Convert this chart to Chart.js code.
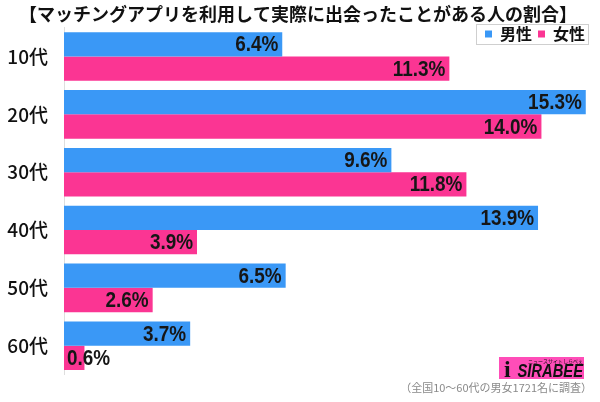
<!DOCTYPE html>
<html>
<head>
<meta charset="utf-8">
<script src="https://cdn.jsdelivr.net/npm/chart.js@4"></script>
<style>
  html, body { margin: 0; padding: 0; background: #fff; }
  #wrap { width: 600px; height: 402px; position: relative; }
</style>
</head>
<body>
<div id="wrap"><canvas id="chart"></canvas></div>
<script>
// Data
const categories = ['10代', '20代', '30代', '40代', '50代', '60代'];
const seriesNames = ['男性', '女性'];
const maleValues = [6.4, 15.3, 9.6, 13.9, 6.5, 3.7];
const femaleValues = [11.3, 14.0, 11.8, 3.9, 2.6, 0.6];
const titleText = '【マッチングアプリを利用して実際に出会ったことがある人の割合】';
const noteText = '（全国10～60代の男女1721名に調査）';

const BLUE = '#3a98f6';
const PINK = '#fb3593';
const JP = '"Noto Sans CJK JP", "Noto Sans", sans-serif';

// value labels at the end of each bar (narrowed text)
const valueLabels = {
    id: 'valueLabels',
    afterDatasetsDraw(chart) {
        const ctx = chart.ctx;
        const area = chart.chartArea;
        const squeeze = 0.86;
        ctx.save();
        ctx.font = 'bold 22px "Liberation Sans", sans-serif';
        ctx.fillStyle = '#161616';
        ctx.textAlign = 'right';
        ctx.textBaseline = 'middle';
        chart.data.datasets.forEach((ds, i) => {
            chart.getDatasetMeta(i).data.forEach((bar, j) => {
                const txt = ds.data[j].toFixed(1) + '%';
                const w = ctx.measureText(txt).width * squeeze;
                const x = Math.max(bar.x - 4, area.left + 3 + w);
                ctx.save();
                ctx.translate(x, bar.y + 1);
                ctx.scale(squeeze, 1);
                ctx.fillText(txt, 0, 0);
                ctx.restore();
            });
        });
        ctx.restore();
    }
};

// keep legend from taking vertical space, place it over the plot, and frame it
const legendBox = {
    id: 'legendBox',
    beforeInit(chart) {
        const fit = chart.legend.fit;
        chart.legend.fit = function() {
            fit.call(this);
            this._fullHeight = this.height;
            this.height = 0;
        };
    },
    afterLayout(chart) {
        const lg = chart.legend;
        lg.top = 20;
        lg.height = lg._fullHeight;
        lg.bottom = lg.top + lg.height;
        lg.left -= 5;
        lg.right -= 5;
    },
    afterDraw(chart) {
        const boxes = chart.legend.legendHitBoxes;
        if (!boxes || !boxes.length) return;
        const ctx = chart.ctx;
        const left = Math.min(...boxes.map(b => b.left)) - 9;
        const right = Math.max(...boxes.map(b => b.left + b.width)) + 3;
        const top = boxes[0].top - 2;
        const bottom = boxes[0].top + boxes[0].height + 2;
        ctx.save();
        ctx.strokeStyle = '#cfcfcf';
        ctx.lineWidth = 1;
        ctx.strokeRect(Math.round(left) + 0.5, Math.round(top) + 0.5, Math.round(right - left), Math.round(bottom - top));
        ctx.restore();
    }
};

// source note and site logo
const footer = {
    id: 'footer',
    afterDraw(chart) {
        const ctx = chart.ctx;
        ctx.save();
        ctx.font = '11px ' + JP;
        ctx.fillStyle = '#8a8a8a';
        ctx.textAlign = 'right';
        ctx.textBaseline = 'middle';
        ctx.fillText(noteText, 592, 388);

        ctx.fillStyle = '#ff4db8';
        ctx.fillRect(499, 357, 85, 22);
        ctx.fillStyle = '#111';
        ctx.font = 'italic bold 18px "Liberation Sans", sans-serif';
        ctx.textAlign = 'right';
        ctx.textBaseline = 'alphabetic';
        ctx.save();
        ctx.translate(583, 377);
        ctx.scale(0.82, 1);
        ctx.fillText('SIRABEE', 0, 0);
        ctx.restore();
        ctx.font = 'bold 24px "Liberation Serif", serif';
        ctx.textAlign = 'left';
        ctx.fillText('i', 504, 377);
        ctx.font = '5px ' + JP;
        ctx.textAlign = 'right';
        ctx.fillText('ニュースサイトしらべぇ', 583, 363);
        ctx.restore();
    }
};

new Chart(document.getElementById('chart'), {
    type: 'bar',
    data: {
        labels: categories,
        datasets: [
            { label: seriesNames[0], data: maleValues, backgroundColor: BLUE },
            { label: seriesNames[1], data: femaleValues, backgroundColor: PINK }
        ]
    },
    options: {
        indexAxis: 'y',
        responsive: true,
        maintainAspectRatio: false,
        devicePixelRatio: 1,
        animation: false,
        barPercentage: 1.0,
        categoryPercentage: 0.84,
        layout: { padding: { left: 0, right: 4, top: 0, bottom: 0 } },
        scales: {
            x: { display: false, min: 0, max: 15.6 },
            y: {
                afterFit(scale) { scale.width = 64; },
                grid: { display: false, drawTicks: false },
                border: { display: true, color: '#dedede', width: 1 },
                ticks: {
                    color: '#111',
                    padding: 16,
                    font: { family: JP, size: 19, weight: '500' }
                }
            }
        },
        plugins: {
            title: {
                display: true,
                text: titleText,
                color: '#111',
                font: { family: JP, size: 18, weight: 'bold' },
                padding: { top: 3, bottom: 3 }
            },
            legend: {
                position: 'top',
                align: 'end',
                labels: {
                    boxWidth: 7,
                    boxHeight: 7,
                    padding: 6,
                    color: '#111',
                    font: { family: JP, size: 16, weight: 'bold' }
                }
            },
            tooltip: { enabled: false }
        }
    },
    plugins: [valueLabels, legendBox, footer]
});
</script>
</body>
</html>
